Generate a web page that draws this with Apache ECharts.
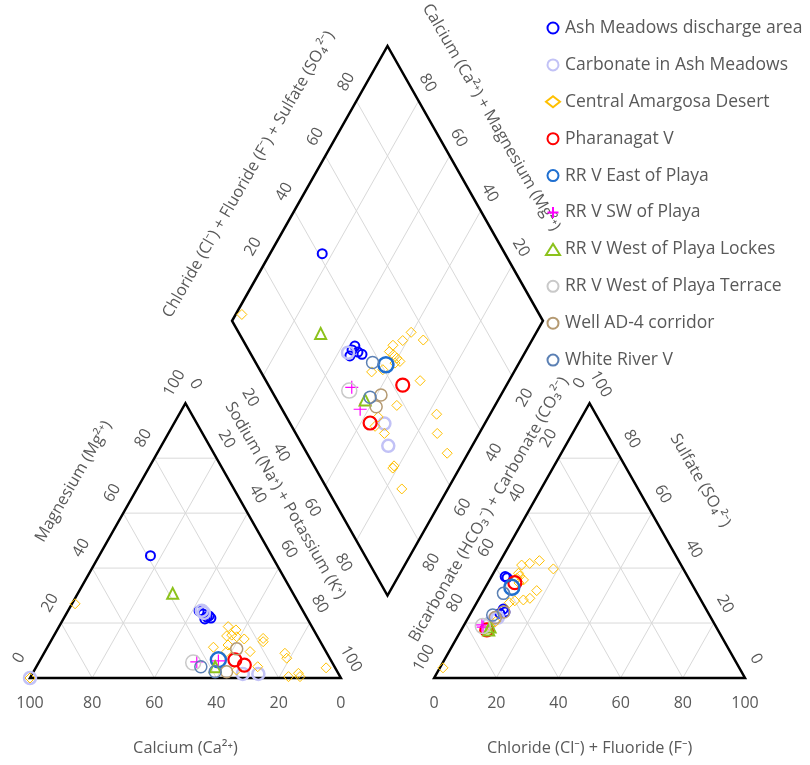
<!DOCTYPE html>
<html><head><meta charset="utf-8">
<script src="https://cdn.jsdelivr.net/npm/echarts@6/dist/echarts.min.js"></script>
<style>html,body{margin:0;padding:0;background:#fff}#c{width:810px;height:765px}</style>
</head><body><div id="c"></div>
<script>
// ---------------- data (percent of milliequivalents) ----------------
const tickValues = [0, 20, 40, 60, 80, 100];
const gridValues = [20, 40, 60, 80];
const seriesNames = ['Ash Meadows discharge area','Carbonate in Ash Meadows','Central Amargosa Desert','Pharanagat V','RR V East of Playa','RR V SW of Playa','RR V West of Playa Lockes','RR V West of Playa Terrace','Well AD-4 corridor','White River V'];

// cation triangle points: [Ca %, Mg %]  (Na+K = 100 - Ca - Mg)
// anion triangle points:  [Cl+F %, SO4 %] (HCO3+CO3 = 100 - Cl - SO4)
// diamond points:         [Na+K %, Cl+F+SO4 %]
const ashCation = [[39,44.5],[33.4,24.4],[32.7,23.3],[32,22.2],[30.9,21.8],[33,21.5],[31.1,22.6]];
const ashAnion = [[5.2,36.5],[4.4,36.9],[9.7,25.1],[9.4,23.5],[10.8,24]];
const ashDiamond = [[16.8,41.2],[43.9,33.3],[46.2,34.8],[47.9,35.7],[44.3,31.5],[44.1,34.9]];

const carbCation = [[100,0],[32.5,24.5],[32.2,23.7],[30.8,1.5],[25.8,1.5]];
const carbAnion = [[8.7,21.7],[9.5,22],[7.8,19.7]];
const carbDiamond = [[43.1,31.5],[67.7,30.3],[73,27.5]];

const amCation = [[72,27],[100,0],[26.9,18.7],[25,17.5],[27.3,15.6],[26,15],[24,14.2],[29.1,15.3],[17.8,14.4],[18.4,13.2],[35.4,11.2],[31.9,9.6],[24.4,9.6],[13.5,9],[13.8,7.2],[24.7,4.1],[2.9,3.7],[16.6,0.5],[12.8,1.7],[12.9,0.5],[32.1,2.9],[30.3,12]];
const amAnion = [[7.6,41.1],[9.9,41.7],[12.5,42.7],[18.5,39.7],[8.1,38.1],[8.5,36.3],[10.9,35.7],[9,37.1],[17.1,31.8],[16.3,29],[14.5,28.4],[11.9,28.1],[10.5,27.4],[1,3.7],[10,34.6],[7.5,17],[8.5,19],[9.5,20.5]];
const amDiamond = [[2,4.3],[56.2,47.3],[58.5,51.3],[59.7,55.5],[65,58],[56.2,45],[58.1,45.7],[59.8,46.2],[61.4,46.6],[60.1,44.7],[54.2,35.6],[57.4,39.6],[71.4,49.6],[68.4,37.6],[82.8,48.8],[64.5,29.5],[65.2,26.8],[69.5,28.5],[86.5,45.5],[93.3,45.1],[78.5,24.9],[78.5,25.7],[85.2,24]];

const phCation = [[30.8,6.6],[28.7,4.7]];
const phAnion = [[8.6,34.7],[8.2,17.5]];
const phDiamond = [[66.6,43.2],[63,25.8]];

const eastCation = [[36.1,6.6]];
const eastAnion = [[8.5,33]];
const eastDiamond = [[57.5,41.5]];

const swCation = [[43.4,5.9],[36.3,6.2]];
const swAnion = [[5.7,19.3],[6.5,18.5]];
const swDiamond = [[50.6,26.4],[57.3,25.1]];

const lockCation = [[38.7,30.8],[38.4,4.1]];
const lockAnion = [[8.8,17.5],[8.7,18.6]];
const lockDiamond = [[30.8,26.2],[57.2,28.4]];

const terCation = [[44.7,5.6]];
const terAnion = [[6.2,18.9]];
const terDiamond = [[50.4,25]];

const adCation = [[28.2,10.6],[35.6,2.3]];
const adAnion = [[10.4,24],[8.7,22]];
const adDiamond = [[61.4,34.4],[62,30.7]];

const wrCation = [[43,4.1],[39.3,2.3]];
const wrAnion = [[6.9,30.8],[7.4,22.9]];
const wrDiamond = [[52.8,37.6],[58.3,30.5]];

// ---------------- geometry ----------------
const S = Math.sqrt(3) / 2;
const GAP = 30;
const AX = 100 + GAP;             // anion triangle x offset
const DY0 = GAP * S;              // diamond bottom y
const DL = [50 + GAP / 2, DY0 + 100 * S]; // diamond left vertex
const YMAX = DY0 + 200 * S;

function cat(p) { const mg = p[1], na = 100 - p[0] - p[1]; return [na + 0.5 * mg, S * mg]; }
function an(p) { return [AX + p[0] + 0.5 * p[1], S * p[1]]; }
function dia(p) { const a = p[0], b = p[1]; return [DL[0] + 0.5 * (a + b), DL[1] + S * (b - a)]; }

const sets = [
  [ashCation, ashAnion, ashDiamond],
  [carbCation, carbAnion, carbDiamond],
  [amCation, amAnion, amDiamond],
  [phCation, phAnion, phDiamond],
  [eastCation, eastAnion, eastDiamond],
  [swCation, swAnion, swDiamond],
  [lockCation, lockAnion, lockDiamond],
  [terCation, terAnion, terDiamond],
  [adCation, adAnion, adDiamond],
  [wrCation, wrAnion, wrDiamond]
];
const styles = [
  {c:'#0000ff', s:'circle', size:9, w:2},
  {c:'#c2c2f6', s:'circle', size:12, w:2.5},
  {c:'#ffc000', s:'diamond', size:10, w:1},
  {c:'#ff0000', s:'circle', size:13, w:2.2},
  {c:'#1f6fd0', s:'circle', size:15, w:2.5},
  {c:'#ff00ff', s:'path://M0,5L10,5M5,0L5,10', size:13, w:1.2},
  {c:'#8cc21c', s:'triangle', size:11, w:2},
  {c:'#c9c9c9', s:'circle', size:15, w:1.5},
  {c:'#b59a72', s:'circle', size:12, w:1.5},
  {c:'#5b80b4', s:'circle', size:12, w:1.5}
];

// grid segments
const gridSegs = [];
gridValues.forEach(v => {
  // cation
  gridSegs.push([v/2, S*v, 100 - v/2, S*v]);
  gridSegs.push([100 - v, 0, 0.5*(100 - v), S*(100 - v)]);
  gridSegs.push([v, 0, v + 0.5*(100 - v), S*(100 - v)]);
  // anion
  gridSegs.push([AX + v/2, S*v, AX + 100 - v/2, S*v]);
  gridSegs.push([AX + v, 0, AX + v + 0.5*(100 - v), S*(100 - v)]);
  gridSegs.push([AX + 100 - v, 0, AX + 0.5*(100 - v), S*(100 - v)]);
  // diamond
  const a0 = dia([v, 0]), a1 = dia([v, 100]);
  gridSegs.push([a0[0], a0[1], a1[0], a1[1]]);
  const b0 = dia([0, v]), b1 = dia([100, v]);
  gridSegs.push([b0[0], b0[1], b1[0], b1[1]]);
});
const outlines = [
  [[0,0],[100,0],[50,100*S]],
  [[AX,0],[AX+100,0],[AX+50,100*S]],
  [dia([0,0]), dia([100,0]), dia([100,100]), dia([0,100])]
];

// text items: anchor in data units, pixel offset, rotation
const texts = [];
const TC = '#595959';
const TICK = 16, TITLE = 16.3;
function addT(pt, dx, dy, rot, text, size) { texts.push({x: pt[0], y: pt[1], dx, dy, rot, text, size: size || TICK}); }
tickValues.forEach(v => {
  addT([100 - v, 0], 0, 25, 0, String(v));                       // Ca
  addT([v/2, S*v], -11, -20, 60, String(v));                     // Mg
  addT([50 + v/2, S*(100 - v)], 10, -19, -60, String(v));        // Na+K
  addT([AX + v, 0], 0, 25, 0, String(v));                        // Cl
  addT([AX + 100 - v/2, S*v], 11, -19, -60, String(v));          // SO4
  addT([AX + 50 - v/2, S*(100 - v)], -10, -20, 60, String(v));   // HCO3
});
gridValues.forEach(v => {
  addT(dia([0, v]), -10, -19, 60, String(v));        // Cl+SO4 (upper-left)
  addT(dia([v, 100]), 9, -18, -60, String(100 - v)); // Ca+Mg (upper-right)
  addT(dia([v, 0]), -13, 22, -60, String(v));        // Na+K (lower-left)
  addT(dia([100, v]), 13, 22, 60, String(100 - v));  // HCO3 (lower-right)
});
addT([50, 0], 0, 70, 0, 'Calcium (Ca²⁺)', TITLE);
addT([AX + 50, 0], 0, 70, 0, 'Chloride (Cl⁻) + Fluoride (F⁻)', TITLE);
addT([25, 50*S], -34, -59, 60, 'Magnesium (Mg²⁺)', TITLE);
addT([75, 50*S], 22, -40, -60, 'Sodium (Na⁺) + Potassium (K⁺)', TITLE);
addT([AX + 25, 50*S], -23, -31, 60, 'Bicarbonate (HCO₃⁻) + Carbonate (CO₃²⁻)', TITLE);
addT([AX + 75, 50*S], 33, -60, -60, 'Sulfate (SO₄²⁻)', TITLE);
addT(dia([0, 50]), -61, -9, 60, 'Chloride (Cl⁻) + Fluoride (F⁻) + Sulfate (SO₄²⁻)', TITLE);
addT(dia([50, 100]), 26, -66, -60, 'Calcium (Ca²⁺) + Magnesium (Mg²⁺)', TITLE);

const FONT = '"Open Sans", "Noto Sans", sans-serif';

const series = [];
series.push({
  type: 'custom', silent: true, z: 1, clip: false,
  data: gridSegs,
  encode: {x: [0, 2], y: [1, 3]},
  renderItem: (params, api) => {
    const p1 = api.coord([api.value(0), api.value(1)]);
    const p2 = api.coord([api.value(2), api.value(3)]);
    return {type: 'line', shape: {x1: p1[0], y1: p1[1], x2: p2[0], y2: p2[1]}, style: {stroke: '#d9d9d9', lineWidth: 1}};
  }
});
series.push({
  type: 'custom', silent: true, z: 2, clip: false,
  data: outlines.map((o, i) => [i]),
  renderItem: (params, api) => {
    const pts = outlines[params.dataIndex].map(p => api.coord(p));
    return {type: 'polygon', shape: {points: pts}, style: {fill: 'none', stroke: '#000', lineWidth: 2.5, lineJoin: 'miter'}};
  }
});
series.push({
  type: 'custom', silent: true, z: 3, clip: false,
  data: texts.map(t => [t.x, t.y]),
  renderItem: (params, api) => {
    const t = texts[params.dataIndex];
    const p = api.coord([t.x, t.y]);
    return {type: 'text', x: p[0] + t.dx, y: p[1] + t.dy, rotation: t.rot * Math.PI / 180,
      style: {text: t.text, fill: TC, font: t.size + 'px ' + FONT, align: 'center', verticalAlign: 'middle'}};
  }
});
sets.forEach((set, i) => {
  const st = styles[i];
  const pts = set[0].map(cat).concat(set[1].map(an), set[2].map(dia));
  series.push({
    name: seriesNames[i], type: 'scatter', z: 5, silent: true,
    symbol: st.s, symbolSize: st.size,
    itemStyle: {color: 'rgba(255,255,255,0)', borderColor: st.c, borderWidth: st.w, opacity: 1},
    data: pts
  });
});

const chart = echarts.init(document.getElementById('c'), null, {renderer: 'canvas'});
chart.setOption({
  animation: false,
  backgroundColor: '#fff',
  grid: {left: 30, right: 65, top: 46, bottom: 87},
  xAxis: {type: 'value', min: 0, max: 230, show: false},
  yAxis: {type: 'value', min: 0, max: YMAX, show: false},
  legend: {
    data: seriesNames, orient: 'vertical', left: 540, top: 14,
    itemWidth: 14, itemHeight: 11, itemGap: 18.9,
    textStyle: {color: TC, fontSize: 17.5, lineHeight: 16, fontFamily: FONT},
    selectedMode: false
  },
  series
});
</script></body></html>
